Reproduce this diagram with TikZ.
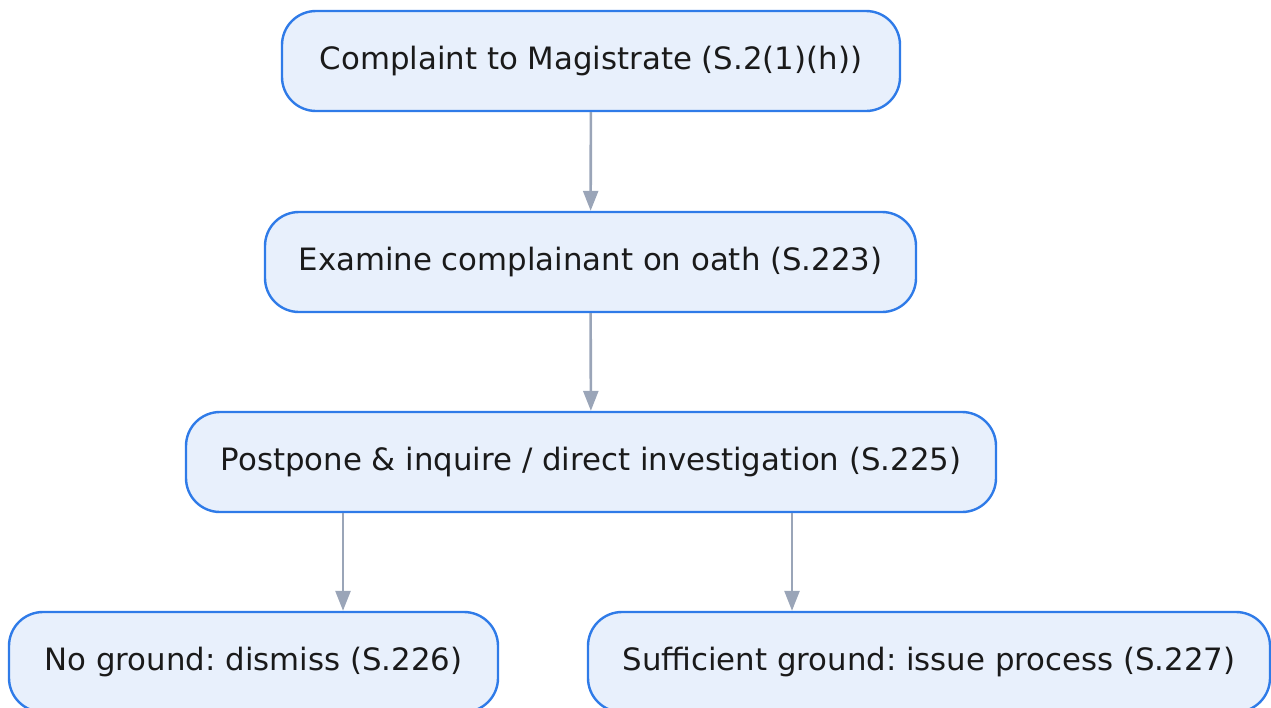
\documentclass[tikz,border=0pt]{standalone}
\usepackage{fontspec}
\setmainfont{DejaVu Sans}
\usetikzlibrary{arrows.meta}
\definecolor{boxfill}{HTML}{E8F0FC}
\definecolor{boxline}{HTML}{2F7BE8}
\definecolor{arrowgray}{HTML}{9AA5B8}
\definecolor{textdark}{HTML}{1A1A1A}
\frenchspacing
\begin{document}
\begin{tikzpicture}[x=1pt,y=-1pt,
  stepbox/.style={draw=boxline, fill=boxfill, line width=2.4pt,
    rounded corners=34pt, minimum height=100pt, inner sep=0pt,
    text=textdark, font=\fontsize{30.8}{36}\selectfont, anchor=center},
  flow/.style={draw=arrowgray, line width=2.6pt,
    -{Triangle[length=20pt,width=15pt]}, shorten >=0pt}]
  \useasboundingbox (0,0) rectangle (1271,707);
  \node[stepbox, minimum width=618pt] (complaint) at (591,61) {Complaint to Magistrate (S.2(1)(h))};
  \node[stepbox, minimum width=651pt] (examine) at (590.5,262) {Examine complainant on oath (S.223)};
  \node[stepbox, minimum width=810pt] (postpone) at (591,462) {Postpone \& inquire / direct investigation (S.225)};
  \node[stepbox, minimum width=489pt] (dismiss) at (253.5,662) {No ground: dismiss (S.226)};
  \node[stepbox, minimum width=682pt] (process) at (929,662) {Sufficient ground: issue process (S.227)};
  \draw[flow] (complaint) -- (examine);
  \draw[flow] (examine) -- (postpone);
  \draw[flow] (postpone.south -| 343,0) -- (dismiss.north -| 343,0);
  \draw[flow] (postpone.south -| 792,0) -- (process.north -| 792,0);
\end{tikzpicture}
\end{document}
